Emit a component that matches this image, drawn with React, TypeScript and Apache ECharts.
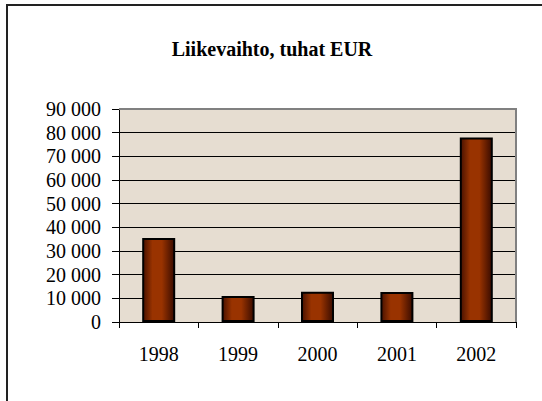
import React, { useEffect, useRef } from "react";
import * as echarts from "echarts";

const categories = ["1998", "1999", "2000", "2001", "2002"];
const revenue = [35500, 11000, 12800, 12700, 78000];
const titleText = "Liikevaihto, tuhat EUR";

const fmt = (v: number) => {
  if (v === 0) return "0";
  const s = String(v);
  return s.replace(/\B(?=(\d{3})+(?!\d))/g, " ");
};

export default function App() {
  const ref = useRef<HTMLDivElement>(null);
  useEffect(() => {
    const chart = echarts.init(ref.current!, null, { renderer: "svg" });
    const font = "Liberation Serif";
    chart.setOption({
      animation: false,
      backgroundColor: "#ffffff",
      title: {
        text: titleText,
        left: 267,
        textAlign: "center",
        top: 34,
        textStyle: { fontFamily: font, fontWeight: "bold", fontSize: 20, color: "#000" },
      },
      graphic: [
        {
          type: "polyline",
          shape: { points: [[7, 420], [7, 5], [560, 5]] },
          style: { stroke: "#222", lineWidth: 2, fill: null },
        },
        {
          type: "polyline",
          shape: { points: [[119, 109], [516, 109], [516, 322]] },
          style: { stroke: "#808080", lineWidth: 2, fill: null },
          z: 10,
        },
      ],
      grid: {
        left: 119,
        top: 109,
        right: 26,
        bottom: 79,
        show: true,
        backgroundColor: "#e6ddd1",
        borderWidth: 0,
      },
      xAxis: {
        type: "category",
        data: categories,
        boundaryGap: true,
        axisLine: { lineStyle: { color: "#000", width: 1 } },
        axisTick: { show: true, length: 6, inside: false, lineStyle: { color: "#000" } },
        axisLabel: { fontFamily: font, fontSize: 20, color: "#000", margin: 22 },
      },
      yAxis: {
        type: "value",
        min: 0,
        max: 90000,
        interval: 10000,
        axisLine: { show: true, lineStyle: { color: "#000", width: 1 } },
        axisTick: { show: true, length: 7, lineStyle: { color: "#000" } },
        axisLabel: { fontFamily: font, fontSize: 20, color: "#000", margin: 18, formatter: fmt },
        splitLine: { lineStyle: { color: "#000", width: 1 } },
      },
      series: [
        {
          type: "bar",
          data: revenue,
          barWidth: 33,
          itemStyle: {
            borderColor: "#000",
            borderWidth: 2,
            color: new echarts.graphic.LinearGradient(0, 0, 1, 0, [
              { offset: 0, color: "#4a1200" },
              { offset: 0.3, color: "#993300" },
              { offset: 0.6, color: "#993300" },
              { offset: 1, color: "#3a0c00" },
            ]),
          },
        },
      ],
    });
    return () => chart.dispose();
  }, []);
  return (
    <div
      ref={ref}
      style={{ position: "absolute", left: 0, top: 0, width: 542, height: 401 }}
    />
  );
}
